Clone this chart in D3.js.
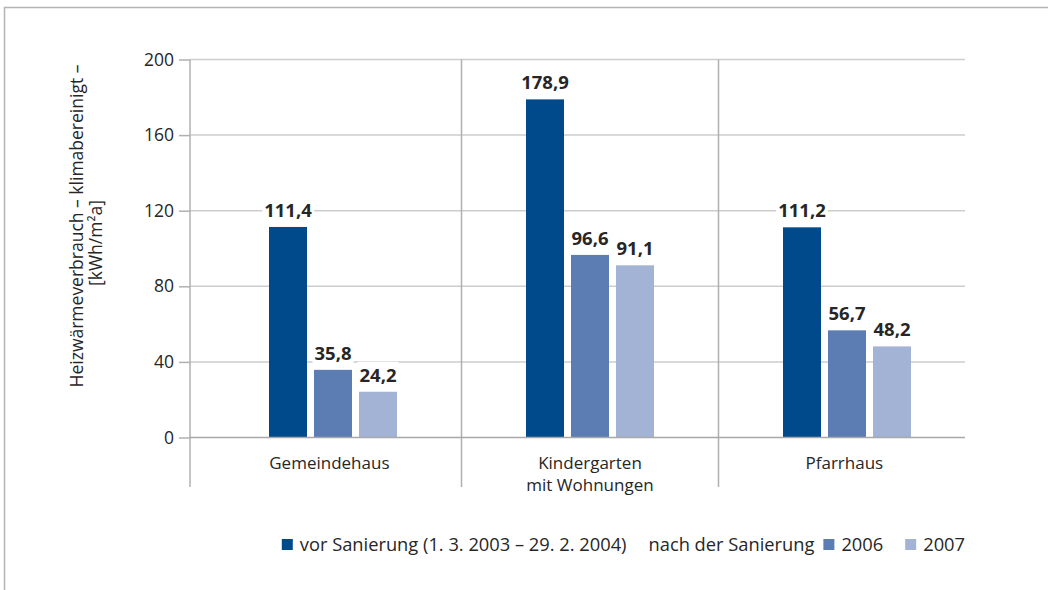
<!DOCTYPE html>
<html><head><meta charset="utf-8">
<script src="https://cdn.jsdelivr.net/npm/d3@7"></script>
<style>
html,body{margin:0;padding:0;background:#fff;}
svg{display:block;}
text{font-family:"Open Sans",sans-serif;fill:#262626;}
</style></head>
<body><svg id="c" width="1048" height="590"></svg>
<script>
// ---- data ----
const categories = ["Gemeindehaus", "Kindergarten|mit Wohnungen", "Pfarrhaus"];
const seriesNames = ["vor", "2006", "2007"];
const vorSanierung = [111.4, 178.9, 111.2];
const nach2006 = [35.8, 96.6, 56.7];
const nach2007 = [24.2, 91.1, 48.2];
const yTicks = [0, 40, 80, 120, 160, 200];
const valueLabels = [["111,4","35,8","24,2"],["178,9","96,6","91,1"],["111,2","56,7","48,2"]];
const legendLabels = ["vor Sanierung (1. 3. 2003 – 29. 2. 2004)", "nach der Sanierung", "2006", "2007"];
const yTitle = ["Heizwärmeverbrauch – klimabereinigt –", "[kWh/m²a]"];

const colors = {vor:"#004a8b", "2006":"#5c7db3", "2007":"#a3b3d5"};
const values = {vor: vorSanierung, "2006": nach2006, "2007": nach2007};

const svg = d3.select("#c");

// frame
svg.append("path").attr("d","M4.5,590 L4.5,7.5 L1048,7.5")
  .attr("fill","none").attr("stroke","#b4b4b4").attr("stroke-width",1.5);

const axisX = 190, gridRight = 965, yTop = 59.5, yZero = 437.5, divBottom = 487;
const y = d3.scaleLinear().domain([0,200]).range([yZero, yTop]);
const x = d3.scaleBand().domain(categories).range([204.5, 975.5]).paddingInner(0).paddingOuter(0);
const xs = d3.scaleBand().domain(seriesNames).range([-64, 64]).paddingInner(7/45).paddingOuter(0);

// gridlines
svg.append("g").selectAll("line").data(yTicks.filter(d=>d>0)).join("line")
  .attr("x1", axisX).attr("x2", gridRight)
  .attr("y1", d=>y(d)).attr("y2", d=>y(d))
  .attr("stroke","#cdcdcd").attr("stroke-width",1.5);

// y axis via d3.axisLeft
const yAxis = d3.axisLeft(y).tickValues(yTicks).tickSize(11).tickPadding(5).tickFormat(d3.format("d"));
const ya = svg.append("g").attr("transform",`translate(${axisX},0)`).call(yAxis);
ya.select(".domain").remove();
ya.selectAll(".tick line").attr("stroke","#b0b0b0").attr("stroke-width",1.5);
ya.selectAll(".tick text").attr("font-size","17.5px").attr("fill","#262626")
  .attr("font-family","Open Sans, sans-serif");

// left axis line and dividers
svg.append("line").attr("x1",axisX).attr("x2",axisX).attr("y1",yTop).attr("y2",divBottom)
  .attr("stroke","#b0b0b0").attr("stroke-width",1.5);
svg.selectAll("line.div").data(categories.slice(1)).join("line")
  .attr("x1",d=>x(d)).attr("x2",d=>x(d)).attr("y1",yTop).attr("y2",divBottom)
  .attr("stroke","#b0b0b0").attr("stroke-width",1.5);

// bars
const rows = [];
categories.forEach((c,i)=>seriesNames.forEach((s,j)=>rows.push({c,s,v:values[s][i],lab:valueLabels[i][j]})));
const cx = d => x(d.c) + x.bandwidth()/2;
svg.selectAll("rect.bar").data(rows).join("rect")
  .attr("x", d=>cx(d)+xs(d.s)).attr("width", xs.bandwidth())
  .attr("y", d=>y(d.v)).attr("height", d=>yZero - y(d.v))
  .attr("fill", d=>colors[d.s]);

// zero axis line
svg.append("line").attr("x1",axisX).attr("x2",gridRight).attr("y1",yZero).attr("y2",yZero)
  .attr("stroke","#a8a8a8").attr("stroke-width",1.5);

// value labels with white backgrounds
const lg = svg.selectAll("g.vl").data(rows).join("g")
  .attr("transform", d=>`translate(${cx(d)+xs(d.s)+xs.bandwidth()/2},${y(d.v)-10})`);
lg.append("text").attr("text-anchor","middle").attr("font-size","18.5px")
  .attr("font-weight","bold").attr("fill","#222").text(d=>d.lab);
lg.each(function(){
  const t = d3.select(this).select("text").node();
  const b = t.getBBox();
  d3.select(this).insert("rect","text").attr("x",b.x-2).attr("y",b.y).attr("width",b.width+4).attr("height",b.height).attr("fill","#fff");
});

// category labels (each line its own text element)
const secBounds = [axisX, ...categories.slice(1).map(c=>x(c)), gridRight];
categories.forEach((c,i)=>{
  const mid = ((secBounds[i]+secBounds[i+1])/2 + x(c)+x.bandwidth()/2)/2;
  c.split("|").forEach((ln,k)=>{
    svg.append("text").attr("text-anchor","middle").attr("font-size","17px")
      .attr("x",mid).attr("y",469 + k*22).text(ln);
  });
});

// y title
const yt = [[83,226],[102,243]];
yTitle.forEach((s,i)=>{
  svg.append("text").attr("text-anchor","middle").attr("font-size","17.5px")
    .attr("transform",`translate(${yt[i][0]},${yt[i][1]}) rotate(-90)`).text(s);
});

// legend (right aligned at gridRight)
const legend = svg.append("g");
const items = [
  {type:"sq", c:colors.vor}, {type:"tx", t:legendLabels[0]},
  {type:"gap", w:22}, {type:"tx", t:legendLabels[1]}, {type:"gap", w:9},
  {type:"sq", c:colors["2006"]}, {type:"tx", t:legendLabels[2]}, {type:"gap", w:22},
  {type:"sq", c:colors["2007"]}, {type:"tx", t:legendLabels[3]}
];
let cur = 0; const ly = 551;
items.forEach((it)=>{
  if(it.type==="sq"){
    legend.append("rect").attr("x",cur).attr("y",ly-12).attr("width",11).attr("height",11).attr("fill",it.c);
    cur += 11 + 7;
  } else if(it.type==="tx"){
    const t = legend.append("text").attr("x",cur).attr("y",ly).attr("font-size","18.3px").text(it.t);
    cur += t.node().getComputedTextLength();
  } else cur += it.w;
});
legend.attr("transform",`translate(${gridRight - cur},0)`);
</script></body></html>
